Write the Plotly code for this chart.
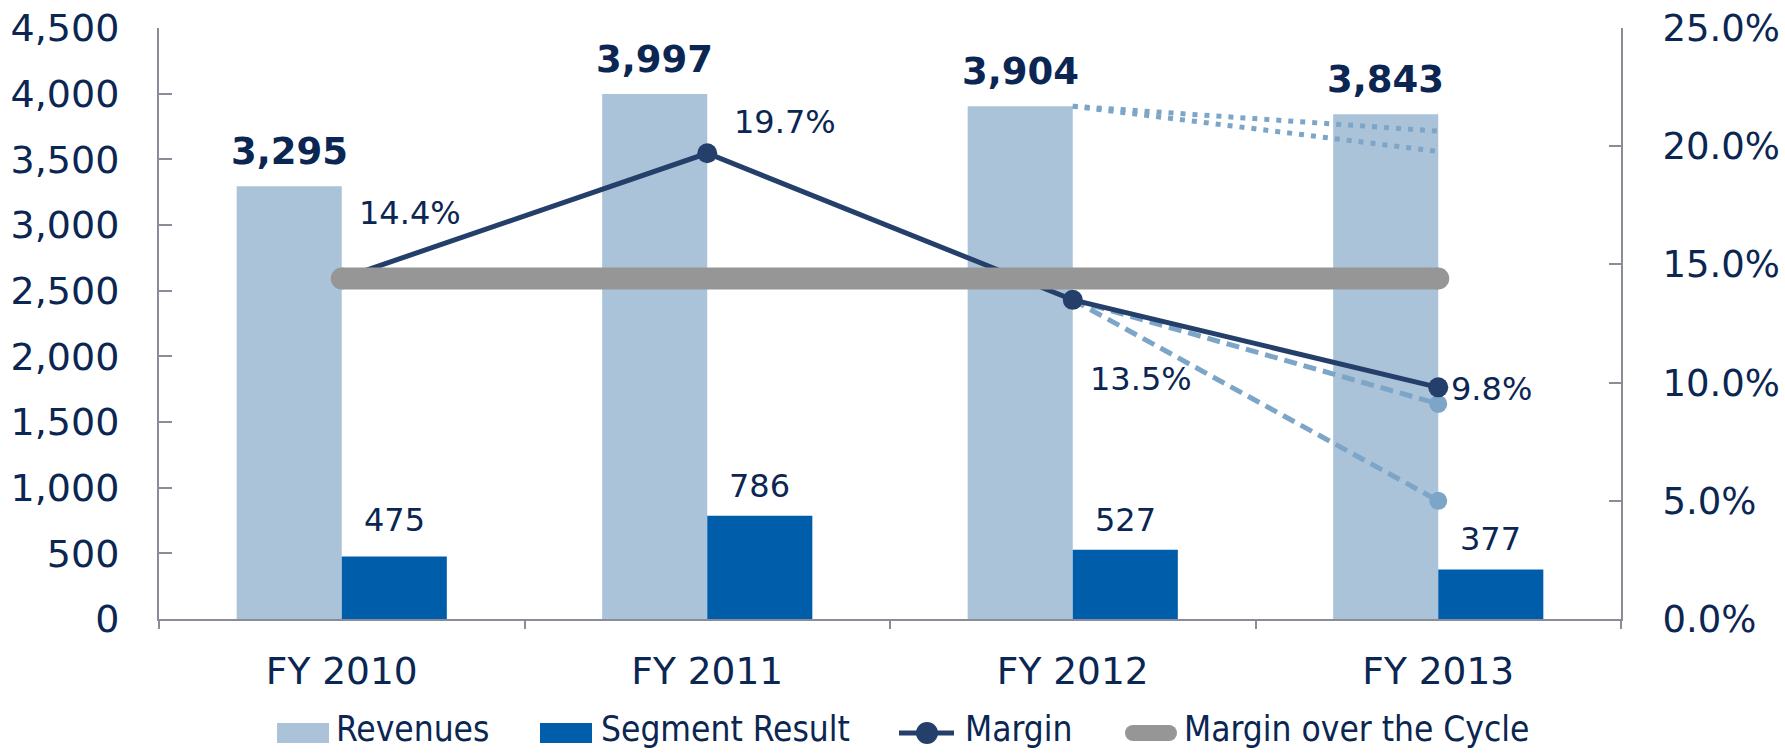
import plotly.graph_objects as go

# ---- data ----
fiscal_years = ["FY 2010", "FY 2011", "FY 2012", "FY 2013"]
revenues = [3295, 3997, 3904, 3843]
segment_result = [475, 786, 527, 377]
margin = [0.144, 0.197, 0.135, 0.098]
cycle_years = ["FY 2010", "FY 2013"]
cycle_margin = [0.144, 0.144]
scenario_years = ["FY 2012", "FY 2013"]
margin_scenario_mid = [0.135, 0.091]
margin_scenario_low = [0.135, 0.050]
revenue_scenario_a = [3904, 3715]
revenue_scenario_b = [3904, 3560]
legend_names = ["Revenues", "Segment Result", "Margin", "Margin over the Cycle"]

# ---- styles ----
TEXT = "#0B2652"
AXIS = "#8C8C98"
REV_C = "#ABC3D9"
SEG_C = "#005DA9"
MARGIN_C = "#243F6A"
CYCLE_C = "#969696"
SCEN_C = "#7DA5C8"
FONT = "DejaVu Sans"
BARGAP = 0.425
W, H = 1785, 753
ML, MR, MT, MB = 159, 164, 28, 134
PW, PH = W - ML - MR, H - MT - MB


def px(x):
    return (x - ML) / PW


def py(y):
    return (H - MB - y) / PH


fig = go.Figure()
fig.add_trace(go.Bar(x=fiscal_years, y=revenues, name=legend_names[0],
                     marker=dict(color=REV_C, line=dict(width=0)), yaxis="y"))
fig.add_trace(go.Bar(x=fiscal_years, y=segment_result, name=legend_names[1],
                     marker=dict(color=SEG_C, line=dict(width=0)), yaxis="y"))

for ys in (revenue_scenario_a, revenue_scenario_b):
    fig.add_trace(go.Scatter(x=scenario_years, y=ys, mode="lines",
                             line=dict(color=SCEN_C, width=5, dash="5px,7px"),
                             yaxis="y", hoverinfo="skip"))
for ys in (margin_scenario_mid, margin_scenario_low):
    fig.add_trace(go.Scatter(x=scenario_years, y=ys, mode="lines+markers",
                             line=dict(color=SCEN_C, width=5, dash="13px,7px"),
                             marker=dict(color=SCEN_C, size=18),
                             yaxis="y2", hoverinfo="skip"))

fig.add_trace(go.Scatter(x=fiscal_years, y=margin, name=legend_names[2], mode="lines+markers",
                         line=dict(color=MARGIN_C, width=5),
                         marker=dict(color=MARGIN_C, size=20), yaxis="y2"))
fig.add_trace(go.Scatter(x=cycle_years, y=cycle_margin, name=legend_names[3],
                         mode="lines+markers",
                         line=dict(color=CYCLE_C, width=22),
                         marker=dict(color=CYCLE_C, size=22), yaxis="y2"))

annotations = []
half = (1 - BARGAP) / 4
for i, v in enumerate(revenues):
    annotations.append(dict(x=i - half, y=v, xref="x", yref="y", text=f"<b>{v:,}</b>",
                            showarrow=False, yshift=35, yanchor="middle",
                            font=dict(size=37, color=TEXT, family=FONT)))
seg_shift = [37, 30, 30, 30]
for i, v in enumerate(segment_result):
    annotations.append(dict(x=i + half, y=v, xref="x", yref="y", text=f"{v:,}",
                            showarrow=False, yshift=seg_shift[i], yanchor="middle",
                            font=dict(size=32, color=TEXT, family=FONT)))
label_offsets = [(15, -66), (25, -31), (15, 79), (11, 2)]
for i, (v, (dx, dy)) in enumerate(zip(margin, label_offsets)):
    annotations.append(dict(x=i, y=v, xref="x", yref="y2", text=f"{v*100:.1f}%",
                            showarrow=False, xshift=dx, yshift=-dy, xanchor="left",
                            yanchor="middle",
                            font=dict(size=32, color=TEXT, family=FONT)))

# ---- custom legend (wide swatches as in the original) ----
LEG_Y = 733
TXT_Y = 729
shapes = [
    dict(type="rect", xref="paper", yref="paper", x0=px(277), x1=px(329),
         y0=py(LEG_Y + 10), y1=py(LEG_Y - 10), fillcolor=REV_C, line=dict(width=0)),
    dict(type="rect", xref="paper", yref="paper", x0=px(540), x1=px(592),
         y0=py(LEG_Y + 10), y1=py(LEG_Y - 10), fillcolor=SEG_C, line=dict(width=0)),
    dict(type="line", xref="paper", yref="paper", x0=px(899), x1=px(954),
         y0=py(LEG_Y), y1=py(LEG_Y), line=dict(color=MARGIN_C, width=5)),
    dict(type="circle", xref="paper", yref="paper", x0=px(916), x1=px(938),
         y0=py(LEG_Y + 11), y1=py(LEG_Y - 11), fillcolor=MARGIN_C, line=dict(width=0)),
    dict(type="line", xref="paper", yref="paper", x0=px(1133), x1=px(1169),
         y0=py(LEG_Y), y1=py(LEG_Y), line=dict(color=CYCLE_C, width=16)),
    dict(type="circle", xref="paper", yref="paper", x0=px(1125), x1=px(1141),
         y0=py(LEG_Y + 8), y1=py(LEG_Y - 8), fillcolor=CYCLE_C, line=dict(width=0)),
    dict(type="circle", xref="paper", yref="paper", x0=px(1161), x1=px(1177),
         y0=py(LEG_Y + 8), y1=py(LEG_Y - 8), fillcolor=CYCLE_C, line=dict(width=0)),
]
legend_text_x = [334, 599, 963, 1182]
for name, lx in zip(legend_names, legend_text_x):
    annotations.append(dict(x=px(lx), y=py(TXT_Y), xref="paper", yref="paper", text=name,
                            showarrow=False, xanchor="left", yanchor="middle",
                            font=dict(size=35, color=TEXT, family="DejaVu Sans Condensed")))

fig.update_layout(
    width=W, height=H,
    margin=dict(l=ML, r=MR, t=MT, b=MB, autoexpand=False),
    paper_bgcolor="white", plot_bgcolor="white",
    font=dict(family=FONT, color=TEXT, size=36),
    barmode="group", bargap=BARGAP, bargroupgap=0,
    showlegend=False,
    xaxis=dict(type="category", range=[-0.5, 3.5], showline=True, linecolor=AXIS,
               linewidth=2, ticks="outside", tickson="boundaries", ticklen=8,
               tickcolor=AXIS, tickwidth=2, tickfont=dict(size=37.5, color=TEXT),
               ticklabelstandoff=18, showgrid=False, zeroline=False, automargin=False),
    yaxis=dict(range=[0, 4500], dtick=500, tickformat=",", ticks="inside", ticklen=13,
               tickcolor=AXIS, tickwidth=2, showline=True, linecolor=AXIS, linewidth=2,
               showgrid=False, zeroline=False, tickfont=dict(size=38, color=TEXT),
               ticklabelstandoff=30, automargin=False),
    yaxis2=dict(range=[0, 0.25], dtick=0.05, tickformat=".1%", ticks="inside", ticklen=12,
                tickcolor=AXIS, tickwidth=2, showline=True, linecolor=AXIS, linewidth=2,
                showgrid=False, zeroline=False, overlaying="y", side="right",
                tickfont=dict(size=37, color=TEXT), ticklabelstandoff=32, automargin=False),
    annotations=annotations,
    shapes=shapes,
)

fig.write_html("out.html", config={"displayModeBar": False},
               post_script="document.body.style.margin='0';document.body.style.overflow='hidden';")
